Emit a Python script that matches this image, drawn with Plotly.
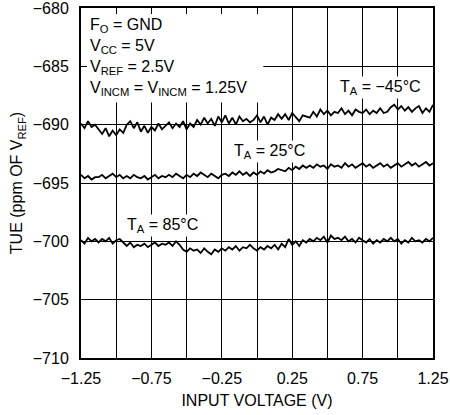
import plotly.graph_objects as go

x_start = -1.25
x_step = 0.025

tue_m45 = [
    -689.9, -690.3, -689.7, -690.2, -690.0,
    -690.4, -690.8, -690.3, -691.0, -690.5, -690.9, -690.4, -690.7,
    -690.0, -689.7, -690.3, -689.8,
    -690.6, -690.1, -690.7, -690.2, -690.5, -689.9, -690.4, -690.1,
    -689.8, -690.3, -689.9, -690.2, -689.7, -690.4, -689.9, -690.2,
    -689.6, -690.0, -689.4, -689.9, -689.5, -690.1, -689.3, -689.8,
    -689.2, -689.9, -689.4, -690.0, -689.3, -689.7, -689.5, -689.8,
    -689.6, -689.2, -689.8, -689.3, -690.0, -689.4, -689.6, -689.1,
    -689.5, -689.1, -689.6, -689.0, -689.4, -689.7, -689.2, -689.3,
    -689.4, -688.9, -689.3, -688.7, -689.1, -688.8, -689.2, -688.9,
    -689.0, -688.6, -689.1, -688.8, -689.2, -688.7, -688.9, -689.0,
    -688.7, -689.1, -688.8, -689.0, -688.6, -689.0, -688.9, -688.5,
    -688.3, -688.7, -688.4, -688.8, -688.5, -688.9, -688.6, -688.4,
    -689.0, -688.6, -688.9, -688.3,
]

tue_25 = [
    -694.3, -694.6, -694.4, -694.7, -694.5,
    -694.5, -694.3, -694.6, -694.4, -694.2, -694.5, -694.3, -694.6,
    -694.4, -694.6, -694.3, -694.5,
    -694.6, -694.4, -694.7, -694.5, -694.3, -694.6, -694.4, -694.5,
    -694.3, -694.5, -694.2, -694.4, -694.6, -694.3, -694.5, -694.2,
    -694.4, -694.1, -694.3, -694.5, -694.2, -694.4, -694.6, -694.3,
    -694.2, -694.4, -694.1, -694.3, -694.0, -694.3, -694.1, -694.4,
    -694.1, -694.3, -694.0, -694.2, -693.9, -694.1, -694.0, -693.8,
    -693.9, -694.0, -693.7, -693.9, -693.6, -693.8, -693.5, -693.7,
    -693.5, -693.7, -693.4, -693.6, -693.5, -693.8, -693.4, -693.6,
    -693.5, -693.7, -693.3, -693.6, -693.4, -693.7, -693.5, -693.3,
    -693.6, -693.4, -693.7, -693.5, -693.3, -693.6, -693.4, -693.7,
    -693.5, -693.3, -693.6, -693.4, -693.2, -693.5, -693.3, -693.6,
    -693.4, -693.2, -693.5, -693.3,
]

tue_85 = [
    -699.9, -700.2, -699.7, -700.0, -699.8,
    -700.1, -699.8, -700.0, -699.7, -700.2, -699.9, -699.8, -700.1,
    -700.4, -700.1, -700.5, -700.3,
    -700.4, -700.2, -700.5, -700.3, -700.1, -700.4, -700.2, -700.3,
    -700.1, -700.4, -700.0, -700.3, -700.7, -700.9, -700.6, -700.8,
    -700.7, -701.0, -700.6, -700.9, -701.1, -700.7, -700.9, -700.6,
    -700.8, -700.5, -700.7, -700.4, -700.8, -700.5, -700.6, -700.3,
    -700.6, -700.8, -700.5, -700.7, -700.4, -700.6, -700.3, -700.7,
    -700.2, -700.5, -699.8, -700.3, -700.0, -700.4, -699.9, -700.1,
    -699.8, -700.0, -699.7, -699.9, -699.6, -700.1, -699.5, -699.8,
    -699.7, -699.9, -699.6, -700.0, -699.8, -700.1, -699.7, -699.9,
    -700.1, -699.8, -700.2, -699.9, -700.1, -699.8, -700.0, -699.7,
    -700.0, -699.8, -700.2, -699.9, -700.1, -699.7, -700.0, -699.9,
    -700.1, -699.8, -700.0, -699.7,
]

x_vals = [round(x_start + x_step * i, 4) for i in range(len(tue_m45))]

x_tickvals = [-1.25, -0.75, -0.25, 0.25, 0.75, 1.25]
x_ticktext = ["\u22121.25", "\u22120.75", "\u22120.25", "0.25", "0.75", "1.25"]
y_tickvals = [-710, -705, -700, -695, -690, -685, -680]

FONT = "Liberation Sans, Arial, sans-serif"
FS = 16

fig = go.Figure()
for ys in (tue_m45, tue_25, tue_85):
    fig.add_trace(go.Scatter(x=x_vals, y=ys, mode="lines",
                             line=dict(color="black", width=1.8),
                             showlegend=False, hoverinfo="skip"))

fig.add_shape(type="rect", xref="x", yref="y", x0=-1.25, x1=0.045,
              y0=-688.1, y1=-680, fillcolor="white", line=dict(width=0),
              layer="between")

ann_common = dict(xref="x", yref="y", showarrow=False, xanchor="left",
                  yanchor="middle", font=dict(family=FONT, size=FS, color="black"),
                  borderpad=1)
labels = [
    ("F<sub>O</sub> = GND", -1.20, -681.5, None),
    ("V<sub>CC</sub> = 5V", -1.20, -683.3, None),
    ("V<sub>REF</sub> = 2.5V", -1.20, -685.06, None),
    ("V<sub>INCM</sub> = V<sub>INCM</sub> = 1.25V", -1.20, -686.86, None),
    ("T<sub>A</sub> = \u221245\u00b0C", 0.575, -686.8, "white"),
    ("T<sub>A</sub> = 25\u00b0C", -0.178, -692.26, "white"),
    ("T<sub>A</sub> = 85\u00b0C", -0.937, -698.6, "white"),
]
for txt, ax_, ay_, bg in labels:
    kw = dict(ann_common)
    if bg:
        kw["bgcolor"] = bg
    fig.add_annotation(text=txt, x=ax_, y=ay_, **kw)

axis_common = dict(showline=True, linecolor="black", linewidth=2, mirror="ticks",
                   ticks="inside", ticklen=6, tickcolor="black", tickwidth=1,
                   showgrid=True, gridcolor="black", gridwidth=1, zeroline=False,
                   ticklabeloverflow="allow", automargin=False,
                   tickfont=dict(family=FONT, size=FS, color="black"))

fig.update_xaxes(range=[-1.25, 1.25], tickvals=x_tickvals, ticktext=x_ticktext,
                 minor=dict(dtick=0.25, tick0=-1.25, showgrid=True, gridcolor="black",
                            gridwidth=1, ticks="inside", ticklen=6, tickcolor="black"),
                 title=dict(text="INPUT VOLTAGE (V)", font=dict(family=FONT, size=FS, color="black"),
                            standoff=9),
                 ticklabelstandoff=5,
                 **axis_common)
fig.update_yaxes(range=[-710, -680], tickvals=y_tickvals,
                 title=dict(text="TUE (ppm OF V<sub>REF</sub>)",
                            font=dict(family=FONT, size=FS, color="black"), standoff=6),
                 ticklabelstandoff=7,
                 **axis_common)

fig.update_layout(width=450, height=415, margin=dict(l=81, r=17, t=8, b=57),
                  plot_bgcolor="white", paper_bgcolor="white",
                  font=dict(family=FONT, size=FS, color="black"))

fig.write_html("out.html", config={"displayModeBar": False},
               post_script="document.body.style.margin='0';document.body.style.overflow='hidden';")
